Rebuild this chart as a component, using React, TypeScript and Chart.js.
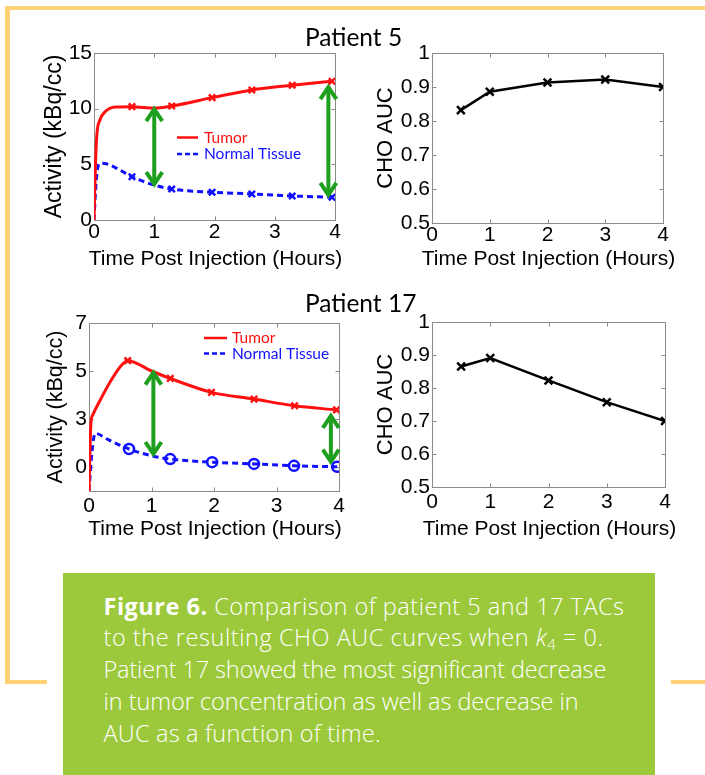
import React, { useEffect, useRef } from "react";
import { Chart, registerables } from "chart.js";

Chart.register(...registerables);

// ---------------- DATA ----------------
// Patient 5 – time activity curves (fit) and measured samples
const p5TumorFitT = [0, 0.02, 0.045, 0.1, 0.18, 0.27, 0.38, 0.63, 1.0, 1.29, 1.96, 2.62, 3.29, 3.95];
const p5TumorFitV = [0, 4.2, 7.5, 9.0, 9.7, 10.05, 10.15, 10.18, 10.05, 10.24, 10.99, 11.68, 12.1, 12.46];
const p5TumorMeasT = [0.63, 1.29, 1.96, 2.62, 3.29, 3.95];
const p5TumorMeasV = [10.18, 10.24, 10.99, 11.68, 12.1, 12.46];
const p5NormalFitT = [0, 0.03, 0.06, 0.1, 0.2, 0.38, 0.63, 1.0, 1.29, 1.96, 2.62, 3.29, 3.95];
const p5NormalFitV = [0, 3.0, 4.6, 5.1, 5.05, 4.64, 3.89, 3.14, 2.78, 2.49, 2.34, 2.16, 2.04];
const p5NormalMeasT = [0.63, 1.29, 1.96, 2.62, 3.29, 3.95];
const p5NormalMeasV = [3.89, 2.78, 2.49, 2.34, 2.16, 2.04];
const p5ArrowT = [1.0, 3.89];
const p5ArrowTop = [10.05, 12.02];
const p5ArrowBottom = [3.14, 2.16];
const p5YTicks = [0, 5, 10, 15];

// Patient 5 – CHO AUC
const aucT = [0.5, 1, 2, 3, 4];
const p5Auc = [0.832, 0.886, 0.913, 0.922, 0.9];

// Patient 17 – time activity curves (fit) and measured samples
const p17TumorFitT = [0, 0.03, 0.06, 0.18, 0.34, 0.5, 0.62, 1.0, 1.3, 1.96, 2.64, 3.29, 3.96];
const p17TumorFitV = [0, 2.8, 3.17, 3.79, 4.55, 5.18, 5.43, 5.0, 4.69, 4.11, 3.83, 3.55, 3.38];
const p17TumorMeasT = [0.62, 1.3, 1.96, 2.64, 3.29, 3.96];
const p17TumorMeasV = [5.43, 4.69, 4.11, 3.83, 3.55, 3.38];
const p17NormalFitT = [0, 0.05, 0.1, 0.3, 0.64, 1.0, 1.3, 1.97, 2.64, 3.28, 3.97];
const p17NormalFitV = [0, 1.7, 2.4, 2.15, 1.75, 1.47, 1.33, 1.2, 1.13, 1.05, 1.01];
const p17NormalMeasT = [0.64, 1.3, 1.97, 2.64, 3.28, 3.97];
const p17NormalMeasV = [1.75, 1.33, 1.2, 1.13, 1.05, 1.01];
const p17ArrowT = [1.03, 3.87];
const p17ArrowTop = [4.97, 3.17];
const p17ArrowBottom = [1.5, 1.18];
const p17YTickValues = [1, 3, 5, 7];
const p17YTickLabels = ["0", "3", "5", "7"];

// Patient 17 – CHO AUC
const p17Auc = [0.865, 0.891, 0.823, 0.757, 0.7];

const xTicks = [0, 1, 2, 3, 4];
const aucYTicks = [0.5, 0.6, 0.7, 0.8, 0.9, 1];

const legendLabels = ["Tumor", "Normal Tissue"];
const xTitle = "Time Post Injection (Hours)";

// ---------------- STYLE ----------------
const RED = "#ff1010";
const BLUE = "#1010ff";
const GREEN = "#1f9f1f";
const AXIS_FONT = "'Liberation Sans', Arial, Helvetica, sans-serif";
const LEGEND_FONT = "Lato, 'Open Sans', sans-serif";
const CAPTION_FONT = "'Open Sans', Lato, sans-serif";

const pts = (t: number[], v: number[]) => t.map((x, i) => ({ x, y: v[i] }));

const framePlugin = {
  id: "frame",
  beforeDatasetsDraw(chart: any) {
    const { ctx, chartArea: a, scales } = chart;
    ctx.save();
    ctx.strokeStyle = "#8a8a8a";
    ctx.lineWidth = 1;
    const l = Math.round(a.left) + 0.5;
    const r = Math.round(a.right) + 0.5;
    const t = Math.round(a.top) + 0.5;
    const b = Math.round(a.bottom) + 0.5;
    ctx.strokeRect(l, t, r - l, b - t);
    const L = 4;
    ctx.beginPath();
    for (const tk of scales.x.ticks) {
      const px = Math.round(scales.x.getPixelForValue(tk.value)) + 0.5;
      ctx.moveTo(px, b);
      ctx.lineTo(px, b - L);
      ctx.moveTo(px, t);
      ctx.lineTo(px, t + L);
    }
    for (const tk of scales.y.ticks) {
      const py = Math.round(scales.y.getPixelForValue(tk.value)) + 0.5;
      ctx.moveTo(l, py);
      ctx.lineTo(l + L, py);
      ctx.moveTo(r, py);
      ctx.lineTo(r - L, py);
    }
    ctx.stroke();
    ctx.restore();
  },
};

// x-axis title drawn without Chart.js' maxWidth squeeze (the title is wider than the plot)
function xTitlePlugin(centerY: number) {
  return {
    id: "xTitle",
    afterDraw(chart: any) {
      const { ctx, chartArea: a } = chart;
      ctx.save();
      ctx.font = `21px ${AXIS_FONT}`;
      ctx.fillStyle = "#000";
      ctx.textAlign = "center";
      ctx.textBaseline = "middle";
      ctx.fillText(xTitle, (a.left + a.right) / 2 + 1, centerY);
      ctx.restore();
    },
  };
}

function arrowPlugin(xs: number[], tops: number[], bottoms: number[]) {
  return {
    id: "arrows",
    afterDatasetsDraw(chart: any) {
      const { ctx, scales } = chart;
      ctx.save();
      ctx.strokeStyle = GREEN;
      ctx.lineWidth = 4;
      ctx.lineJoin = "miter";
      ctx.lineCap = "butt";
      xs.forEach((xv, i) => {
        const x = scales.x.getPixelForValue(xv);
        const y1 = scales.y.getPixelForValue(tops[i]);
        const y2 = scales.y.getPixelForValue(bottoms[i]);
        ctx.beginPath();
        ctx.moveTo(x, y1 + 2);
        ctx.lineTo(x, y2 - 2);
        ctx.stroke();
        ctx.beginPath();
        ctx.moveTo(x - 8, y1 + 13);
        ctx.lineTo(x, y1 + 1);
        ctx.lineTo(x + 8, y1 + 13);
        ctx.moveTo(x - 8, y2 - 13);
        ctx.lineTo(x, y2 - 1);
        ctx.lineTo(x + 8, y2 - 13);
        ctx.stroke();
      });
      ctx.restore();
    },
  };
}

function legendPlugin(x0: number, x1: number, tx: number, rows: number[]) {
  return {
    id: "innerLegend",
    afterDraw(chart: any) {
      const { ctx, chartArea: a } = chart;
      ctx.save();
      ctx.font = `15.5px ${LEGEND_FONT}`;
      ctx.textBaseline = "middle";
      ctx.textAlign = "left";
      ctx.lineWidth = 2.5;
      ctx.strokeStyle = RED;
      ctx.setLineDash([]);
      ctx.beginPath();
      ctx.moveTo(a.left + x0, a.top + rows[0]);
      ctx.lineTo(a.left + x1, a.top + rows[0]);
      ctx.stroke();
      ctx.fillStyle = RED;
      ctx.fillText(legendLabels[0], a.left + tx, a.top + rows[0]);
      ctx.strokeStyle = BLUE;
      ctx.setLineDash([5, 3]);
      ctx.beginPath();
      ctx.moveTo(a.left + x0, a.top + rows[1]);
      ctx.lineTo(a.left + x1, a.top + rows[1]);
      ctx.stroke();
      ctx.setLineDash([]);
      ctx.fillStyle = BLUE;
      ctx.fillText(legendLabels[1], a.left + tx, a.top + rows[1]);
      ctx.restore();
    },
  };
}

type AxisSpec = {
  yMin: number;
  yMax: number;
  yTicks: number[];
  yLabel?: (v: number) => string;
  yTitle: string;
  yTitleSize: number;
  yTitlePad: number;
  yWidth: number;
  xHeight: number;
  xTickPad: number;
  tickSize: number;
};

function makeScales(s: AxisSpec) {
  return {
    x: {
      type: "linear",
      min: 0,
      max: 4,
      afterBuildTicks: (sc: any) => {
        sc.ticks = xTicks.map((v) => ({ value: v }));
      },
      ticks: {
        color: "#000",
        font: { family: AXIS_FONT, size: s.tickSize },
        padding: s.xTickPad,
        maxRotation: 0,
        autoSkip: false,
      },
      grid: { display: false, drawTicks: false },
      border: { display: false },
      title: { display: false },
      afterFit: (sc: any) => {
        sc.height = s.xHeight;
      },
    },
    y: {
      type: "linear",
      min: s.yMin,
      max: s.yMax,
      afterBuildTicks: (sc: any) => {
        sc.ticks = s.yTicks.map((v) => ({ value: v }));
      },
      ticks: {
        color: "#000",
        font: { family: AXIS_FONT, size: s.tickSize },
        padding: 2,
        autoSkip: false,
        callback: (v: number) => (s.yLabel ? s.yLabel(v) : String(Math.round(v * 10) / 10)),
      },
      grid: { display: false, drawTicks: false },
      border: { display: false },
      title: {
        display: true,
        text: s.yTitle,
        color: "#000",
        font: { family: AXIS_FONT, size: s.yTitleSize },
        padding: { top: s.yTitlePad, bottom: 0 },
      },
      afterFit: (sc: any) => {
        sc.width = s.yWidth;
      },
    },
  };
}

function ChartCanvas({
  left,
  top,
  width,
  height,
  build,
}: {
  left: number;
  top: number;
  width: number;
  height: number;
  build: () => any;
}) {
  const ref = useRef<HTMLCanvasElement | null>(null);
  useEffect(() => {
    const chart = new Chart(ref.current as HTMLCanvasElement, build());
    return () => chart.destroy();
  }, []);
  return (
    <div style={{ position: "absolute", left, top, width, height }}>
      <canvas ref={ref} width={width} height={height} style={{ width, height, display: "block" }} />
    </div>
  );
}

const baseOptions = (padding: any, scales: any) => ({
  responsive: false,
  animation: false,
  devicePixelRatio: 1,
  layout: { padding },
  plugins: { legend: { display: false }, tooltip: { enabled: false } },
  scales,
});

function tacDatasets(
  tFitT: number[],
  tFitV: number[],
  tMT: number[],
  tMV: number[],
  nFitT: number[],
  nFitV: number[],
  nMT: number[],
  nMV: number[],
  normalMarker: string
) {
  return [
    {
      label: "Tumor",
      data: pts(tFitT, tFitV),
      borderColor: RED,
      borderWidth: 3,
      pointRadius: 0,
      cubicInterpolationMode: "monotone",
      fill: false,
    },
    {
      label: "Tumor samples",
      data: pts(tMT, tMV),
      showLine: false,
      pointStyle: "crossRot",
      pointRadius: 4.5,
      borderColor: RED,
      pointBorderWidth: 2.5,
    },
    {
      label: "Normal Tissue",
      data: pts(nFitT, nFitV),
      borderColor: BLUE,
      borderWidth: 3,
      borderDash: [6, 4],
      pointRadius: 0,
      cubicInterpolationMode: "monotone",
      fill: false,
    },
    {
      label: "Normal samples",
      data: pts(nMT, nMV),
      showLine: false,
      pointStyle: normalMarker,
      pointRadius: normalMarker === "circle" ? 5 : 4.5,
      borderColor: BLUE,
      backgroundColor: "rgba(0,0,0,0)",
      pointBorderWidth: 2.5,
    },
  ];
}

function aucDataset(v: number[]) {
  return [
    {
      label: "CHO AUC",
      data: pts(aucT, v),
      borderColor: "#000",
      borderWidth: 2.5,
      pointStyle: "crossRot",
      pointRadius: 5.5,
      pointBorderWidth: 2.5,
      pointBorderColor: "#000",
      fill: false,
      tension: 0,
    },
  ];
}

const buildA = () => ({
  type: "line",
  data: {
    datasets: tacDatasets(
      p5TumorFitT, p5TumorFitV, p5TumorMeasT, p5TumorMeasV,
      p5NormalFitT, p5NormalFitV, p5NormalMeasT, p5NormalMeasV, "crossRot"
    ),
  },
  options: baseOptions(
    { left: 0, top: 33, right: 15, bottom: 0 },
    makeScales({
      yMin: 0, yMax: 15, yTicks: p5YTicks, yTitle: "Activity (kBq/cc)", yTitleSize: 23,
      yTitlePad: 21, yWidth: 74, xHeight: 60, xTickPad: 0, tickSize: 21,
    })
  ),
  plugins: [
    framePlugin,
    arrowPlugin(p5ArrowT, p5ArrowTop, p5ArrowBottom),
    legendPlugin(83, 104, 110, [84.5, 101]),
    xTitlePlugin(239),
  ],
});

const buildB = () => ({
  type: "line",
  data: { datasets: aucDataset(p5Auc) },
  options: baseOptions(
    { left: 0, top: 33, right: 22, bottom: 0 },
    makeScales({
      yMin: 0.5, yMax: 1, yTicks: aucYTicks, yTitle: "CHO AUC", yTitleSize: 22,
      yTitlePad: 18, yWidth: 77, xHeight: 57, xTickPad: 0, tickSize: 21,
    })
  ),
  plugins: [framePlugin, xTitlePlugin(239)],
});

const buildC = () => ({
  type: "line",
  data: {
    datasets: tacDatasets(
      p17TumorFitT, p17TumorFitV, p17TumorMeasT, p17TumorMeasV,
      p17NormalFitT, p17NormalFitV, p17NormalMeasT, p17NormalMeasV, "circle"
    ),
  },
  options: baseOptions(
    { left: 0, top: 23, right: 16, bottom: 0 },
    makeScales({
      yMin: 0, yMax: 7, yTicks: p17YTickValues,
      yLabel: (v: number) => p17YTickLabels[p17YTickValues.indexOf(v)] ?? "",
      yTitle: "Activity (kBq/cc)", yTitleSize: 21.5,
      yTitlePad: 23, yWidth: 69, xHeight: 59, xTickPad: 3, tickSize: 21,
    })
  ),
  plugins: [
    framePlugin,
    arrowPlugin(p17ArrowT, p17ArrowTop, p17ArrowBottom),
    legendPlugin(115, 138, 143, [15, 30.5]),
    xTitlePlugin(229),
  ],
});

const buildD = () => ({
  type: "line",
  data: { datasets: aucDataset(p17Auc) },
  options: baseOptions(
    { left: 0, top: 22, right: 25, bottom: 0 },
    makeScales({
      yMin: 0.5, yMax: 1, yTicks: aucYTicks, yTitle: "CHO AUC", yTitleSize: 22,
      yTitlePad: 18, yWidth: 77, xHeight: 63, xTickPad: 3, tickSize: 21,
    })
  ),
  plugins: [framePlugin, xTitlePlugin(229)],
});

const ORANGE = "#fdd174";

export default function App() {
  const captionLine = (ls: number): React.CSSProperties => ({
    height: 31.8,
    lineHeight: "31.8px",
    whiteSpace: "nowrap",
    letterSpacing: ls,
  });
  const titleStyle: React.CSSProperties = {
    position: "absolute",
    left: 305,
    fontFamily: LEGEND_FONT,
    fontSize: 24.5,
    lineHeight: "24.5px",
    color: "#000",
    whiteSpace: "nowrap",
  };
  return (
    <div
      style={{
        position: "absolute",
        left: 0,
        top: 0,
        width: 705,
        height: 775,
        overflow: "hidden",
        background: "#fff",
      }}
    >
      <div style={{ position: "absolute", left: 5, top: 6, width: 700, height: 4, background: ORANGE }} />
      <div style={{ position: "absolute", left: 5, top: 6, width: 5, height: 678, background: ORANGE }} />
      <div style={{ position: "absolute", left: 5, top: 680, width: 42, height: 4, background: ORANGE }} />
      <div style={{ position: "absolute", left: 671, top: 680, width: 34, height: 4, background: ORANGE }} />

      <ChartCanvas left={20} top={20} width={330} height={260} build={buildA} />
      <ChartCanvas left={355} top={20} width={330} height={260} build={buildB} />
      <ChartCanvas left={20} top={300} width={335} height={250} build={buildC} />
      <ChartCanvas left={355} top={300} width={335} height={250} build={buildD} />

      <div style={{ ...titleStyle, top: 25 }}>Patient 5</div>
      <div style={{ ...titleStyle, top: 291.3 }}>Patient 17</div>

      <div
        style={{
          position: "absolute",
          left: 63,
          top: 573,
          width: 592,
          height: 202,
          background: "#9cc93b",
        }}
      >
        <div
          style={{
            position: "absolute",
            left: 40.5,
            top: 17.5,
            color: "#fff",
            fontFamily: CAPTION_FONT,
            fontSize: 23.5,
            fontWeight: 300,
          }}
        >
          <div style={captionLine(0.5)}>
            <b style={{ fontWeight: 700 }}>Figure 6.</b> Comparison of patient 5 and 17 TACs
          </div>
          <div style={captionLine(0.55)}>
            to the resulting CHO AUC curves when <i>k</i>
            <span style={{ fontSize: 15, position: "relative", top: 4 }}>4</span> = 0.
          </div>
          <div style={captionLine(-0.15)}>Patient 17 showed the most significant decrease</div>
          <div style={captionLine(-0.05)}>in tumor concentration as well as decrease in</div>
          <div style={captionLine(0.2)}>AUC as a function of time.</div>
        </div>
      </div>
    </div>
  );
}
